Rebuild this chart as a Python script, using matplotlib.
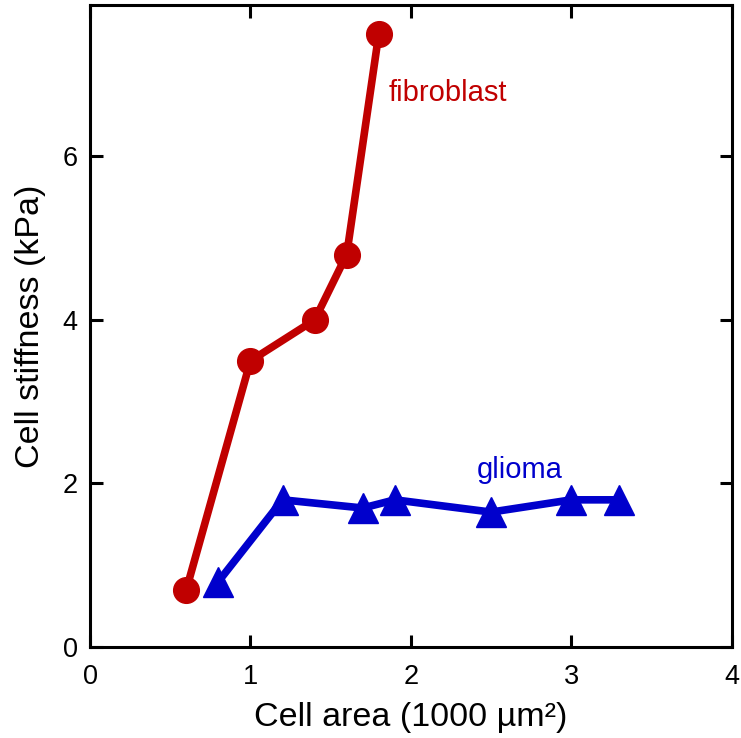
import matplotlib
matplotlib.use("Agg")
import matplotlib.pyplot as plt

plt.rcParams['font.family'] = ['Liberation Sans', 'DejaVu Sans']

# fibroblast data
fib_area = [0.6, 1.0, 1.4, 1.6, 1.8]
fib_stiff = [0.7, 3.5, 4.0, 4.8, 7.5]

# glioma data
gli_area = [0.8, 1.2, 1.7, 1.9, 2.5, 3.0, 3.3]
gli_stiff = [0.8, 1.8, 1.7, 1.8, 1.65, 1.8, 1.8]

x_ticks = [0, 1, 2, 3, 4]
y_ticks = [0, 2, 4, 6]

fig = plt.figure(figsize=(7.41, 7.38), dpi=100)
ax = fig.add_axes([0.1215, 0.1233, 0.866, 0.8697])

ax.plot(fib_area, fib_stiff, color='#c00000', lw=5.5, marker='o', ms=18.5)
ax.plot(gli_area, gli_stiff, color='#0000cc', lw=5.5, marker='^', ms=22)

ax.text(1.86, 6.78, 'fibroblast', color='#c00000', fontsize=21, va='center', ha='left')
ax.text(2.41, 2.16, 'glioma', color='#0000cc', fontsize=21, va='center', ha='left')

ax.set_xlim(0, 4)
ax.set_ylim(0, 7.85)
ax.set_xticks(x_ticks)
ax.set_yticks(y_ticks)
ax.tick_params(direction='in', length=9, width=2.2, labelsize=19.5,
               top=True, right=True)
ax.tick_params(axis='x', pad=12)
ax.tick_params(axis='y', pad=9)
for s in ax.spines.values():
    s.set_linewidth(2.2)

ax.set_xlabel('Cell area (1000 µm²)', fontsize=24.5, labelpad=9)
ax.set_ylabel('Cell stiffness (kPa)', fontsize=24.5, labelpad=12)

fig.savefig('out.png', dpi=100)
